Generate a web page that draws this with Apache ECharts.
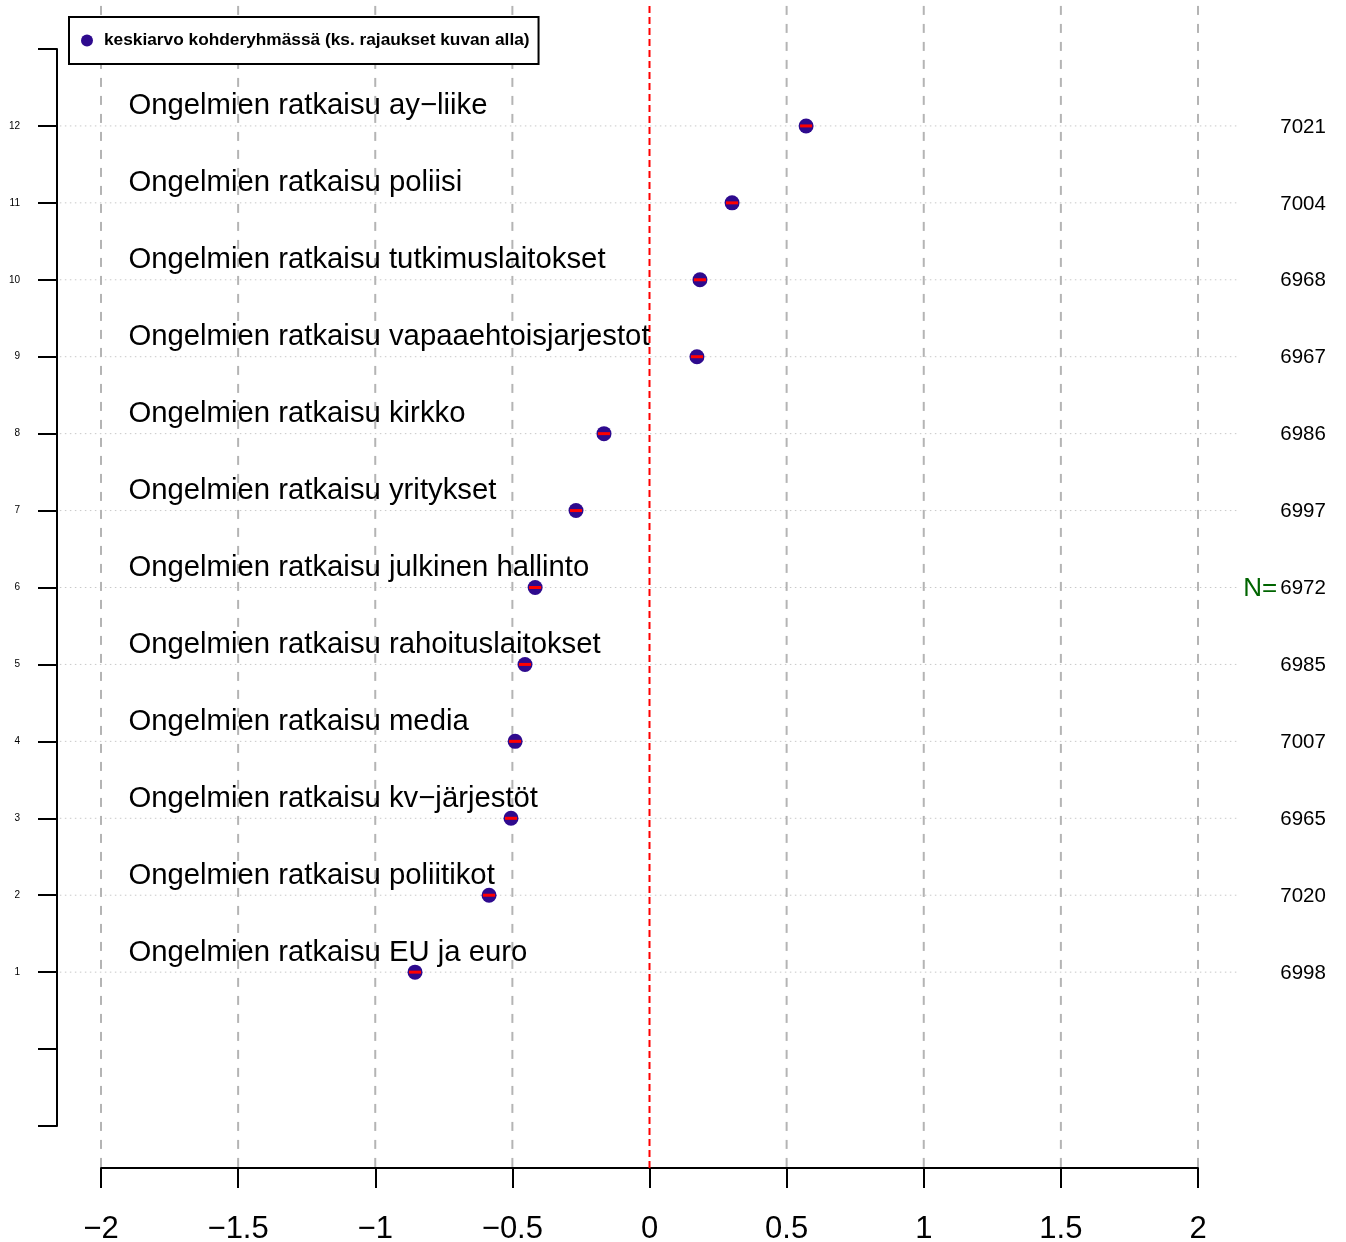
<!DOCTYPE html>
<html>
<head>
<meta charset="utf-8">
<script src="https://cdn.jsdelivr.net/npm/echarts@6/dist/echarts.min.js"></script>
<style>
html,body{margin:0;padding:0;background:#fff;}
#chart{width:1346px;height:1242px;}
</style>
</head>
<body>
<div id="chart"></div>
<script>
// ---- data (bottom to top, y position 1..12) ----
var categories = [
  "Ongelmien ratkaisu EU ja euro",
  "Ongelmien ratkaisu poliitikot",
  "Ongelmien ratkaisu kv\u2212järjestöt",
  "Ongelmien ratkaisu media",
  "Ongelmien ratkaisu rahoituslaitokset",
  "Ongelmien ratkaisu julkinen hallinto",
  "Ongelmien ratkaisu yritykset",
  "Ongelmien ratkaisu kirkko",
  "Ongelmien ratkaisu vapaaehtoisjarjestot",
  "Ongelmien ratkaisu tutkimuslaitokset",
  "Ongelmien ratkaisu poliisi",
  "Ongelmien ratkaisu ay\u2212liike"
];
var means  = [-0.855, -0.585, -0.505, -0.490, -0.454, -0.417, -0.268, -0.166, 0.173, 0.184, 0.301, 0.571];
var ciLow  = [-0.877, -0.607, -0.527, -0.512, -0.476, -0.439, -0.290, -0.188, 0.151, 0.162, 0.279, 0.549];
var ciHigh = [-0.833, -0.563, -0.483, -0.468, -0.432, -0.395, -0.246, -0.144, 0.195, 0.206, 0.323, 0.593];
var nValues = [6998, 7020, 6965, 7007, 6985, 6972, 6997, 6986, 6967, 6968, 7004, 7021];
var xTicks = [-2, -1.5, -1, -0.5, 0, 0.5, 1, 1.5, 2];
var legendLabel = "keskiarvo kohderyhmässä (ks. rajaukset kuvan alla)";

var FONT = '"Liberation Sans", Arial, Helvetica, sans-serif';
var POINT_COLOR = '#2e0a8e';

// layout-related constants (in data units for line extents / text offsets)
var X_LINE_EXT = 2.15;     // horizontal dotted guide half-length
var Y_TOP_EXT = 13.56;     // vertical guides top
var Y_BOT_EXT = -1.55;     // vertical guides bottom
var LABEL_X = -1.9;
var LABEL_DY = 0.255;
var N_X = 2.3;

var pos = categories.map(function (c, i) { return i + 1; });
var scatterData = means.map(function (m, i) { return [m, pos[i]]; });
var ciData = means.map(function (m, i) { return [ciLow[i], ciHigh[i], pos[i]]; });
var labelData = categories.map(function (c, i) { return [LABEL_X, pos[i] + LABEL_DY, c]; });
var nData = nValues.map(function (n, i) { return [N_X, pos[i], n, i]; });
var midIndex = Math.floor(categories.length / 2) - 1;

function fmtMinus(v) {
  var s = String(v);
  return s.replace('-', '\u2212');
}

var chart = echarts.init(document.getElementById('chart'), null, {renderer: 'canvas'});
var option = {
  backgroundColor: '#ffffff',
  animation: false,
  textStyle: {fontFamily: FONT},
  grid: {left: 101, right: 148, top: 49, bottom: 116, containLabel: false, outerBoundsMode: 'none'},
  legend: {
    left: 69, top: 17,
    padding: [15, 9, 15, 12],
    itemWidth: 12, itemHeight: 12,
    borderColor: '#000', borderWidth: 2,
    backgroundColor: '#fff',
    icon: 'circle',
    textStyle: {fontSize: 17.3, fontWeight: 'bold', color: '#000', fontFamily: FONT,
      padding: [0, 0, 0, 6]},
    data: [legendLabel]
  },
  xAxis: {
    type: 'value', min: -2, max: 2, interval: 0.5,
    offset: 42,
    axisLine: {show: true, onZero: false, lineStyle: {color: '#000', width: 2}},
    axisTick: {show: true, length: 20, lineStyle: {color: '#000', width: 2}},
    axisLabel: {fontSize: 31, color: '#000', margin: 46, fontFamily: FONT,
      formatter: function (v) { return fmtMinus(v); }},
    splitLine: {show: false}
  },
  yAxis: {
    type: 'value', min: -1, max: 13, interval: 1,
    offset: 44,
    axisLine: {show: true, onZero: false, lineStyle: {color: '#000', width: 2}},
    axisTick: {show: true, length: 19, lineStyle: {color: '#000', width: 2}},
    axisLabel: {fontSize: 10, color: '#000', margin: 37, fontFamily: FONT,
      formatter: function (v) { return (v >= 1 && v <= categories.length) ? String(v) : ''; }},
    splitLine: {show: false}
  },
  series: [
    { // horizontal dotted guides
      type: 'custom', clip: false, silent: true, z: 1,
      data: pos.map(function (p) { return [p]; }),
      renderItem: function (params, api) {
        var y = api.value(0);
        var a = api.coord([-X_LINE_EXT, y]);
        var b = api.coord([X_LINE_EXT, y]);
        return {type: 'line', shape: {x1: a[0], y1: a[1], x2: b[0], y2: b[1]},
          style: {stroke: '#c8c8c8', lineWidth: 1, lineDash: [1.5, 3.5]}};
      }
    },
    { // vertical dashed guides
      type: 'custom', clip: false, silent: true, z: 2,
      data: xTicks.map(function (t) { return [t]; }),
      renderItem: function (params, api) {
        var x = api.value(0);
        var a = api.coord([x, Y_TOP_EXT]);
        var b = api.coord([x, Y_BOT_EXT]);
        var isZero = x === 0;
        return {type: 'line', shape: {x1: a[0], y1: a[1], x2: b[0], y2: b[1]},
          style: {stroke: isZero ? '#ff0000' : '#b4b4b4', lineWidth: 2,
            lineDash: isZero ? [7, 4] : [9, 9]}};
      }
    },
    { // means
      name: legendLabel,
      type: 'scatter', z: 5,
      symbol: 'circle', symbolSize: 15,
      itemStyle: {color: POINT_COLOR, opacity: 1},
      data: scatterData
    },
    { // confidence intervals
      type: 'custom', clip: false, silent: true, z: 6,
      data: ciData,
      renderItem: function (params, api) {
        var a = api.coord([api.value(0), api.value(2)]);
        var b = api.coord([api.value(1), api.value(2)]);
        return {type: 'line', shape: {x1: a[0], y1: a[1], x2: b[0], y2: b[1]},
          style: {stroke: '#ff0000', lineWidth: 3}};
      }
    },
    { // category labels
      type: 'custom', clip: false, silent: true, z: 4,
      data: labelData,
      renderItem: function (params, api) {
        var p = api.coord([api.value(0), api.value(1)]);
        return {type: 'text', x: p[0], y: p[1],
          style: {text: labelData[params.dataIndex][2], fill: '#000',
            font: '29.3px ' + FONT, align: 'left', verticalAlign: 'middle'}};
      }
    },
    { // N values
      type: 'custom', clip: false, silent: true, z: 4,
      data: nData,
      renderItem: function (params, api) {
        var p = api.coord([api.value(0), api.value(1)]);
        var i = params.dataIndex;
        var children = [{type: 'text', x: p[0], y: p[1] + 1,
          style: {text: String(nValues[i]), fill: '#000', font: '20.5px ' + FONT,
            align: 'left', verticalAlign: 'middle'}}];
        if (i === midIndex) {
          children.push({type: 'text', x: p[0] - 3, y: p[1] + 1,
            style: {text: 'N=', fill: '#006400', font: '26px ' + FONT,
              align: 'right', verticalAlign: 'middle'}});
        }
        return {type: 'group', children: children};
      }
    }
  ]
};
chart.setOption(option);
</script>
</body>
</html>
